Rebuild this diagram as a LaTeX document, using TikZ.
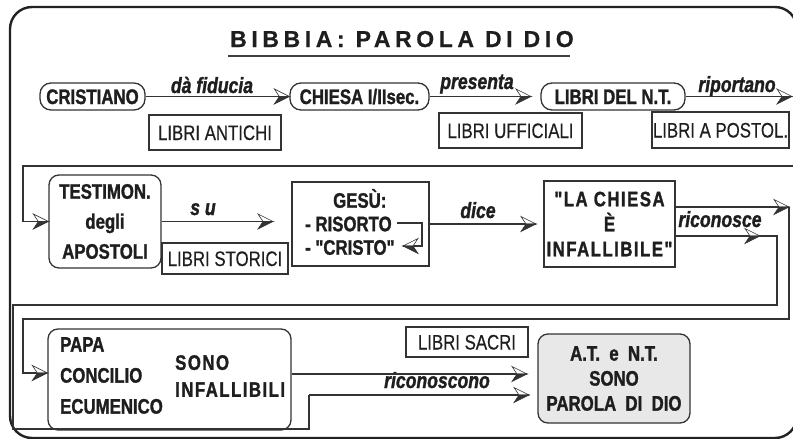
\documentclass[tikz,border=0pt]{standalone}
\usepackage{fontspec}
\setmainfont{Liberation Sans}
\newfontfamily\fB[FakeStretch=0.8,FakeBold=1.3]{Liberation Sans Bold}
\newfontfamily\fBS[FakeStretch=0.8,FakeBold=1.3,LetterSpace=7]{Liberation Sans Bold}
\newfontfamily\fBI[FakeStretch=0.8,FakeBold=1.3]{Liberation Sans Bold Italic}
\newfontfamily\fR[FakeStretch=0.8,FakeBold=0.4]{Liberation Sans}
\newfontfamily\fT[LetterSpace=20,FakeBold=0.6]{Liberation Sans Bold}
\usetikzlibrary{decorations.markings}
\definecolor{lc}{HTML}{333333}
\definecolor{tc}{HTML}{1E1E1E}
\definecolor{fc}{HTML}{222222}
\definecolor{atfill}{HTML}{E8E8E8}
\newcommand\hhead{%
  \draw[lc,line width=0.6pt,fill=white,line join=miter] (0,0) -- (-15,-7.5) -- (-10,0) -- cycle;
  \filldraw[lc,line width=0.6pt,line join=miter] (0,0) -- (-10,0) -- (-15,7.5) -- cycle;}
\newcommand\hheadm{%
  \draw[lc,line width=0.6pt,fill=white,line join=miter] (0,0) -- (-15,7.5) -- (-10,0) -- cycle;
  \filldraw[lc,line width=0.6pt,line join=miter] (0,0) -- (-10,0) -- (-15,-7.5) -- cycle;}
\tikzset{
  conn/.style={draw=lc,line width=1.2pt},
  harr/.style={postaction={decorate},decoration={markings,mark=at position 1 with {\hhead}}},
  harrm/.style={postaction={decorate},decoration={markings,mark=at position 1 with {\hheadm}}},
  pill/.style={draw=lc,line width=1.3pt,rounded corners=11pt,minimum height=27pt,inner sep=0pt,
    text height=15pt,text depth=0pt,text=tc,font={\fB\fontsize{21}{24}\selectfont}},
  lbox/.style={draw=lc,line width=1.2pt,inner sep=0pt,text height=15pt,text depth=0pt,
    text=tc,font={\fR\fontsize{21}{24}\selectfont}},
  sbox/.style={draw=lc,line width=1.3pt,inner sep=0pt,align=center,text=tc},
  rbox/.style={draw=lc,line width=1.3pt,inner sep=0pt,align=center,text=tc,rounded corners=10pt},
  txt/.style={inner sep=0pt,text=tc},
  lab/.style={inner sep=0pt,anchor=base,text=tc,font={\fBI\fontsize{22}{24}\selectfont}},
}
\begin{document}
\begin{tikzpicture}[x=1pt,y=-1pt]
\useasboundingbox (0,0) rectangle (793,439);
\clip (0,0) rectangle (793,439);
% frame
\draw[fc,line width=2.4pt,rounded corners=22pt] (10,7) rectangle (797,438);
% title
\node[txt,anchor=base west,font={\fT\fontsize{23}{26}\selectfont}] (title) at (230,47) {BIBBIA: PAROLA DI DIO};
\draw[draw=gray!50!black,line width=1.6pt] ([xshift=-2pt,yshift=-9pt]title.base west) -- ([xshift=-3.5pt,yshift=-9pt]title.base east);
% row 1
\node[pill,minimum width=105pt] (cristiano) at (92.5,96.5) {CRISTIANO};
\node[pill,minimum width=139pt] (chiesa1) at (359.5,96.5) {CHIESA I/IIsec.};
\node[pill,minimum width=144pt] (libnt) at (613,96.5) {LIBRI DEL N.T.};
\node[lbox,minimum width=132pt,minimum height=35pt] (antichi) at (215,132.5) {LIBRI ANTICHI};
\node[lbox,minimum width=143pt,minimum height=35pt] (ufficiali) at (510.5,130.5) {LIBRI UFFICIALI};
\node[lbox,minimum width=137pt,minimum height=36pt] (apostol) at (720.5,130) {LIBRI A POSTOL.};
\node[lab] (l1) at (212,93) {dà fiducia};
\node[lab] (l2) at (477,89) {presenta};
\node[lab] (l3) at (737,92) {riportano};
% row 2
\node[rbox,minimum width=112pt,minimum height=93pt,font={\fB\fontsize{21}{30}\selectfont}] (testimon) at (105,221.5) {TESTIMON.\\degli\\APOSTOLI};
\node[lbox,minimum width=126pt,minimum height=31pt] (storici) at (225,258.5) {LIBRI STORICI};
\node[sbox,minimum width=137pt,minimum height=84pt] (gesu) at (360.5,224) {};
\node[txt,align=left,anchor=west,font={\fB\fontsize{21}{23.5}\selectfont}] (gesutxt) at (305,224) {\hspace*{28pt}GES\smash{Ù}:\\- RISORTO\\- "CRISTO"};
\node[sbox,minimum width=131pt,minimum height=86pt,font={\fBS\fontsize{21}{25}\selectfont}] (chiesa2) at (609.5,224) {"LA CHIESA\\È\\INFALLIBILE"};
\node[lab] (l4) at (203,215) {s u};
\node[lab] (l5) at (478,218) {dice};
\node[lab] (l6) at (720,227) {riconosce};
% row 3
\node[rbox,minimum width=243pt,minimum height=101pt] (papa) at (169.5,379.5) {};
\node[txt,align=left,anchor=west,font={\fB\fontsize{21}{31}\selectfont}] (papaL) at (60,375.5) {PAPA\\CONCILIO\\ECUMENICO};
\node[txt,align=left,anchor=west,font={\fBS\fontsize{21}{27}\selectfont}] (papaR) at (175,376) {SONO\\INFALLIBILI};
\node[lbox,minimum width=122pt,minimum height=30pt] (sacri) at (467,342) {LIBRI SACRI};
\node[rbox,fill=atfill,minimum width=152pt,minimum height=89pt,font={\fB\fontsize{21}{25}\selectfont}] (at) at (614,378.5) {A.T.\ \ e\ \ N.T.\\SONO\\PAROLA\ \ DI\ \ DIO};
\node[lab] (l7) at (437,388) {riconoscono};
% free ends
\coordinate (presT) at (531,96.5);
\coordinate (ripT) at (792,96.5);
\coordinate (rE) at (800,166);
\coordinate (c1) at (23,166);
\coordinate (suT) at (273,221.5);
\coordinate (diceT) at (536,224);
\coordinate (gs) at (397,223);
\coordinate (gc) at (422,223);
\coordinate (ge) at (403,246);
\coordinate (rcT) at (789,207);
\coordinate (c3) at (23,319);
\coordinate (rlT) at (760,236);
\coordinate (rl1) at (777,236);
\coordinate (c4) at (13,305);
\coordinate (c5) at (13,429);
\coordinate (c6) at (309,395);
\coordinate (atU) at (527,374);
\coordinate (atLT) at (529,395);
% connectors
\draw[conn,harr] (cristiano) -- (chiesa1);
\draw[conn,harr] (chiesa1) -- (presT);
\draw[conn,harr] (libnt) -- (ripT);
\draw[conn,harr] (rE) -- (c1) |- (testimon);
\draw[conn,harr] (testimon) -- (suT);
\draw[conn,harr] (gesu) -- (diceT);
\draw[conn,harrm] (gs) -- (gc) |- (ge);
\draw[conn,harr] ([yshift=17pt]chiesa2.east) -- (rcT);
\draw[conn,harr] (rcT) |- (c3) |- ([yshift=6.5pt]papa.west);
\draw[conn,harr] ([yshift=-12pt]chiesa2.east) -- (rlT);
\draw[conn] (rlT) -- (rl1) |- (c4) -- (c5) -| (c6);
\draw[conn,harr] (c6) -- (atLT);
\draw[conn,harr] ([yshift=5.5pt]papa.east) -- (atU);
\end{tikzpicture}
\end{document}
